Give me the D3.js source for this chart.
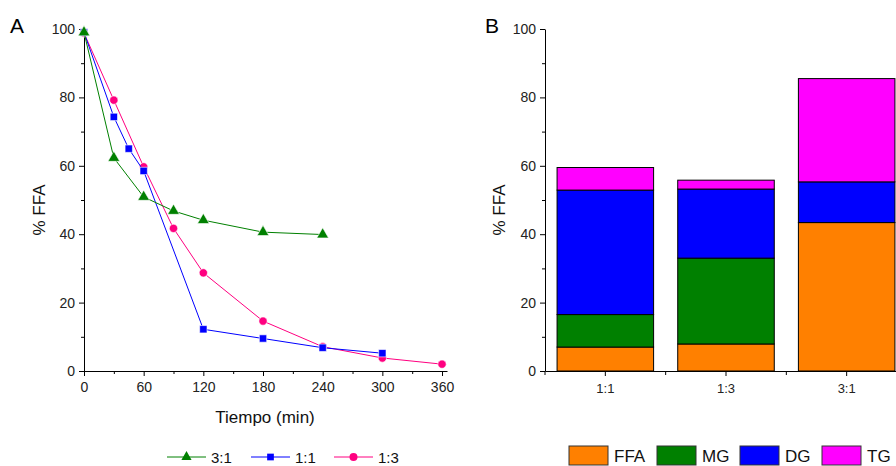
<!DOCTYPE html>
<html lang="en">
<head>
<meta charset="UTF-8">
<title>FFA</title>
<script src="https://cdn.jsdelivr.net/npm/d3@7"></script>
<style>
  body { margin: 0; padding: 0; background: #fff; }
  svg { display: block; font-family: "Liberation Sans", Arial, sans-serif; }
  .axis path, .axis line { stroke: #000; stroke-width: 1px; }
  .axis text { font-size: 14px; fill: #222; font-family: "Liberation Sans", Arial, sans-serif; }
  .axis.cat text { font-size: 13px; }
  .label { font-size: 17px; fill: #111; }
  .panel { font-size: 21px; fill: #000; }
  .legend text { font-size: 15px; fill: #111; }
  .legend.big text { font-size: 17px; }
</style>
</head>
<body>
<div id="chart"></div>
<script>
// panel A data
const times = [0, 30, 45, 60, 90, 120, 180, 240, 300, 360];
const series31 = [[0, 99], [30, 62.3], [60, 50.9], [90, 46.8], [120, 44.1], [180, 40.6], [240, 39.9]];
const series11 = [[0, 99], [30, 74.3], [45, 65], [60, 58.5], [120, 12.2], [180, 9.5], [240, 6.8], [300, 5.2]];
const series13 = [[0, 98.8], [30, 79.2], [60, 59.7], [90, 41.7], [120, 28.7], [180, 14.6], [240, 7.1], [300, 3.8], [360, 2.0]];
const xTicksA = [0, 60, 120, 180, 240, 300, 360];

// panel B data
const ratios = ["1:1", "1:3", "3:1"];
const components = ["FFA", "MG", "DG", "TG"];
const ffa = [7.0, 7.9, 43.4];
const mg = [9.5, 25.1, 0];
const dg = [36.4, 20.2, 11.9];
const tg = [6.6, 2.6, 30.2];
const yTicks = [0, 20, 40, 60, 80, 100];

var width = 896, height = 466;

var svg = d3.select("#chart").append("svg")
    .attr("width", width)
    .attr("height", height);

// ---------- Panel A ----------
var xA = d3.scaleLinear().domain([0, 365]).range([84, 447]);
var yA = d3.scaleLinear().domain([0, 100]).range([371, 29]);

svg.append("g").attr("class", "axis")
    .attr("transform", "translate(0,371)")
    .call(d3.axisBottom(xA).tickValues(d3.range(30, 361, 60)).tickSize(3).tickFormat(""))
    .select(".domain").remove();
svg.append("g").attr("class", "axis")
    .attr("transform", "translate(0,371)")
    .call(d3.axisBottom(xA).tickValues(xTicksA).tickSize(5).tickSizeOuter(0).tickPadding(6));

svg.append("g").attr("class", "axis")
    .attr("transform", "translate(84,0)")
    .call(d3.axisLeft(yA).tickValues(d3.range(10, 100, 20)).tickSize(3).tickFormat(""))
    .select(".domain").remove();
svg.append("g").attr("class", "axis")
    .attr("transform", "translate(84,0)")
    .call(d3.axisLeft(yA).tickValues(yTicks).tickSize(5).tickSizeOuter(0).tickPadding(4));

svg.append("text").attr("class", "panel").attr("x", 10).attr("y", 33).text("A");
svg.append("text").attr("class", "label")
    .attr("x", 265).attr("y", 423).attr("text-anchor", "middle").text("Tiempo (min)");
svg.append("text").attr("class", "label")
    .attr("transform", "translate(45,210) rotate(-90)")
    .attr("text-anchor", "middle").text("% FFA");

var lineA = d3.line().x(d => xA(d[0])).y(d => yA(d[1]));

var seriesA = [
    { name: "1:3", data: series13, color: "#ff0080", symbol: d3.symbolCircle, size: 54 },
    { name: "1:1", data: series11, color: "#0000ff", symbol: d3.symbolSquare, size: 54 },
    { name: "3:1", data: series31, color: "#008000", symbol: d3.symbolTriangle, size: 60 }
];

seriesA.forEach(function(s) {
    svg.append("path")
        .datum(s.data)
        .attr("fill", "none")
        .attr("stroke", s.color)
        .attr("stroke-width", 1)
        .attr("d", lineA);
    svg.selectAll(null)
        .data(s.data)
        .join("path")
        .attr("transform", d => "translate(" + xA(d[0]) + "," + yA(d[1]) + ")")
        .attr("d", d3.symbol().type(s.symbol).size(s.size))
        .attr("fill", s.color)
        .attr("stroke", "#fff")
        .attr("stroke-width", 0.6);
});

// legend A
var legendA = [
    { name: "3:1", color: "#008000", symbol: d3.symbolTriangle, size: 45, x: 167 },
    { name: "1:1", color: "#0000ff", symbol: d3.symbolSquare, size: 45, x: 251 },
    { name: "1:3", color: "#ff0080", symbol: d3.symbolCircle, size: 50, x: 334 }
];
var la = svg.selectAll(".legA").data(legendA).join("g")
    .attr("class", "legend")
    .attr("transform", d => "translate(" + d.x + ",457)");
la.append("line").attr("x1", 0).attr("x2", 39).attr("y1", 0).attr("y2", 0)
    .attr("stroke", d => d.color).attr("stroke-width", 1);
la.append("path").attr("transform", "translate(19.5,0)")
    .attr("d", d => d3.symbol().type(d.symbol).size(d.size)())
    .attr("fill", d => d.color);
la.append("text").attr("x", 44).attr("y", 6).text(d => d.name);

// ---------- Panel B ----------
var xB = d3.scaleBand().domain(ratios).range([545, 907]).paddingInner(0.2).paddingOuter(0.1);
var yB = d3.scaleLinear().domain([0, 100]).range([371, 29]);
var colorB = d3.scaleOrdinal().domain(components).range(["#ff8000", "#008000", "#0000ff", "#ff00ff"]);

var tableB = ratios.map((r, i) => ({ ratio: r, FFA: ffa[i], MG: mg[i], DG: dg[i], TG: tg[i] }));
var stackB = d3.stack().keys(components)(tableB);

svg.append("g")
    .selectAll("g")
    .data(stackB)
    .join("g")
    .attr("fill", d => colorB(d.key))
    .selectAll("rect")
    .data(d => d.filter(v => v[1] - v[0] > 0))
    .join("rect")
    .attr("x", d => xB(d.data.ratio))
    .attr("width", xB.bandwidth())
    .attr("y", d => yB(d[1]))
    .attr("height", d => yB(d[0]) - yB(d[1]))
    .attr("stroke", "#000")
    .attr("stroke-width", 1);

// band boundaries as minor ticks
var bandEdges = ratios.map(r => xB(r) - xB.step() * xB.paddingInner() / 2);
var gxB = svg.append("g").attr("class", "axis cat")
    .attr("transform", "translate(0,371)")
    .call(d3.axisBottom(xB).tickSize(5).tickSizeOuter(0).tickPadding(8));
gxB.selectAll(".edge").data(bandEdges).join("line")
    .attr("x1", d => d).attr("x2", d => d).attr("y1", 0).attr("y2", 4)
    .attr("stroke", "#000");

svg.append("g").attr("class", "axis")
    .attr("transform", "translate(545,0)")
    .call(d3.axisLeft(yB).tickValues(d3.range(10, 100, 20)).tickSize(3).tickFormat(""))
    .select(".domain").remove();
svg.append("g").attr("class", "axis")
    .attr("transform", "translate(545,0)")
    .call(d3.axisLeft(yB).tickValues(yTicks).tickSize(5).tickSizeOuter(0).tickPadding(4));

svg.append("text").attr("class", "panel").attr("x", 485).attr("y", 33).text("B");
svg.append("text").attr("class", "label")
    .attr("transform", "translate(505,210) rotate(-90)")
    .attr("text-anchor", "middle").text("% FFA");

// legend B
var legendBx = [569, 657, 740, 822];
var lb = svg.selectAll(".legB").data(components).join("g")
    .attr("class", "legend big")
    .attr("transform", (d, i) => "translate(" + legendBx[i] + ",446)");
lb.append("rect").attr("width", 39).attr("height", 19)
    .attr("fill", d => colorB(d)).attr("stroke", "#333").attr("stroke-width", 1);
lb.append("text").attr("x", 45).attr("y", 16).text(d => d);
</script>
</body>
</html>
